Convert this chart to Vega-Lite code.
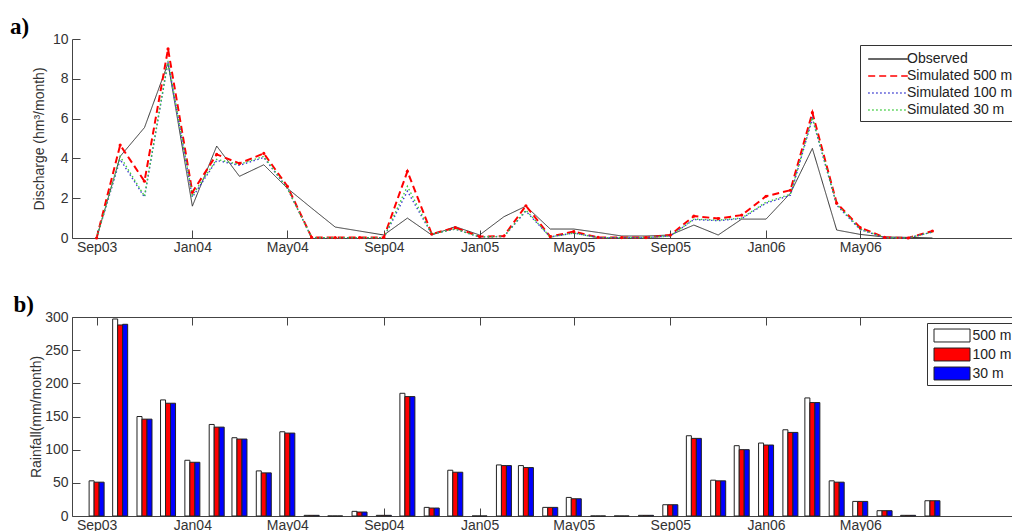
{
  "$schema": "https://vega.github.io/schema/vega-lite/v6.json",
  "autosize": {"type": "none"},
  "width": 940,
  "height": 511,
  "padding": {"left": 72, "top": 20, "right": 0, "bottom": 0},
  "background": "white",
  "config": {
    "view": {"stroke": null},
    "font": "Liberation Sans",
    "axis": {"labelFont": "Liberation Sans", "labelFontSize": 14, "labelColor": "#333", "titleFont": "Liberation Sans", "titleFontSize": 14, "titleFontWeight": "normal", "titleColor": "#333", "domainColor": "#444", "tickColor": "#444", "domainWidth": 1, "tickWidth": 1, "grid": false, "labelFlush": false, "labelOverlap": false, "tickSize": -8},
    "legend": {"labelFont": "Liberation Sans", "labelFontSize": 14, "labelColor": "#222"}
  },
  "title": {"text": "a)", "anchor": "start", "frame": "group", "font": "Liberation Serif", "fontSize": 23, "fontWeight": "bold", "color": "black", "offset": 0, "dx": -62, "dy": 37, "baseline": "alphabetic"},
  "datasets": {
    "q": [
      {"month": "2003-09-01", "obs": 0, "s500": 0, "s100": 0, "s30": 0},
      {"month": "2003-10-01", "obs": 4.1, "s500": 4.67, "s100": 3.95, "s30": 4.1},
      {"month": "2003-11-01", "obs": 5.55, "s500": 2.85, "s100": 2.05, "s30": 2.1},
      {"month": "2003-12-01", "obs": 8.78, "s500": 9.5, "s100": 8.85, "s30": 8.9},
      {"month": "2004-01-01", "obs": 1.6, "s500": 2.3, "s100": 2.05, "s30": 2.15},
      {"month": "2004-02-01", "obs": 4.62, "s500": 4.2, "s100": 3.9, "s30": 3.95},
      {"month": "2004-03-01", "obs": 3.1, "s500": 3.75, "s100": 3.65, "s30": 3.7},
      {"month": "2004-04-01", "obs": 3.68, "s500": 4.25, "s100": 4.05, "s30": 4.1},
      {"month": "2004-05-01", "obs": 2.5, "s500": 2.6, "s100": 2.5, "s30": 2.5},
      {"month": "2004-06-01", "obs": 1.5, "s500": 0.03, "s100": 0.02, "s30": 0.02},
      {"month": "2004-07-01", "obs": 0.55, "s500": 0.02, "s100": 0.02, "s30": 0.02},
      {"month": "2004-08-01", "obs": 0.35, "s500": 0.02, "s100": 0.02, "s30": 0.02},
      {"month": "2004-09-01", "obs": 0.15, "s500": 0.03, "s100": 0.02, "s30": 0.02},
      {"month": "2004-10-01", "obs": 1.0, "s500": 3.35, "s100": 2.35, "s30": 2.6},
      {"month": "2004-11-01", "obs": 0.15, "s500": 0.2, "s100": 0.2, "s30": 0.2},
      {"month": "2004-12-01", "obs": 0.57, "s500": 0.52, "s100": 0.45, "s30": 0.45},
      {"month": "2005-01-01", "obs": 0.15, "s500": 0.07, "s100": 0.05, "s30": 0.05},
      {"month": "2005-02-01", "obs": 1.07, "s500": 0.1, "s100": 0.08, "s30": 0.08},
      {"month": "2005-03-01", "obs": 1.6, "s500": 1.62, "s100": 1.35, "s30": 1.4},
      {"month": "2005-04-01", "obs": 0.45, "s500": 0.07, "s100": 0.05, "s30": 0.05},
      {"month": "2005-05-01", "obs": 0.45, "s500": 0.32, "s100": 0.25, "s30": 0.25},
      {"month": "2005-06-01", "obs": 0.28, "s500": 0.03, "s100": 0.02, "s30": 0.02},
      {"month": "2005-07-01", "obs": 0.1, "s500": 0.02, "s100": 0.02, "s30": 0.02},
      {"month": "2005-08-01", "obs": 0.1, "s500": 0.02, "s100": 0.02, "s30": 0.02},
      {"month": "2005-09-01", "obs": 0.15, "s500": 0.15, "s100": 0.1, "s30": 0.1},
      {"month": "2005-10-01", "obs": 0.65, "s500": 1.1, "s100": 0.93, "s30": 0.95},
      {"month": "2005-11-01", "obs": 0.15, "s500": 0.98, "s100": 0.87, "s30": 0.9},
      {"month": "2005-12-01", "obs": 0.95, "s500": 1.15, "s100": 0.98, "s30": 1.0},
      {"month": "2006-01-01", "obs": 0.95, "s500": 2.1, "s100": 1.75, "s30": 1.8},
      {"month": "2006-02-01", "obs": 2.25, "s500": 2.4, "s100": 2.15, "s30": 2.2},
      {"month": "2006-03-01", "obs": 4.5, "s500": 6.3, "s100": 6.0, "s30": 6.05},
      {"month": "2006-04-01", "obs": 0.4, "s500": 1.75, "s100": 1.65, "s30": 1.7},
      {"month": "2006-05-01", "obs": 0.18, "s500": 0.52, "s100": 0.42, "s30": 0.45},
      {"month": "2006-06-01", "obs": 0.05, "s500": 0.03, "s100": 0.02, "s30": 0.02},
      {"month": "2006-07-01", "obs": 0.03, "s500": 0, "s100": 0, "s30": 0},
      {"month": "2006-08-01", "obs": 0, "s500": 0.35, "s100": 0.3, "s30": 0.3}
    ],
    "rain": [
      {"month": "2003-09-01", "r500": 53, "r100": 51, "r30": 51},
      {"month": "2003-10-01", "r500": 297, "r100": 288, "r30": 289},
      {"month": "2003-11-01", "r500": 150, "r100": 146, "r30": 146},
      {"month": "2003-12-01", "r500": 175, "r100": 170, "r30": 170},
      {"month": "2004-01-01", "r500": 84, "r100": 81, "r30": 81},
      {"month": "2004-02-01", "r500": 138, "r100": 134, "r30": 134},
      {"month": "2004-03-01", "r500": 118, "r100": 116, "r30": 116},
      {"month": "2004-04-01", "r500": 68, "r100": 65, "r30": 65},
      {"month": "2004-05-01", "r500": 127, "r100": 125, "r30": 125},
      {"month": "2004-06-01", "r500": 1, "r100": 1, "r30": 1},
      {"month": "2004-07-01", "r500": 0, "r100": 0, "r30": 0},
      {"month": "2004-08-01", "r500": 7, "r100": 6, "r30": 6},
      {"month": "2004-09-01", "r500": 1, "r100": 1, "r30": 1},
      {"month": "2004-10-01", "r500": 185, "r100": 180, "r30": 180},
      {"month": "2004-11-01", "r500": 13, "r100": 12, "r30": 12},
      {"month": "2004-12-01", "r500": 69, "r100": 66, "r30": 66},
      {"month": "2005-01-01", "r500": 0, "r100": 0, "r30": 0},
      {"month": "2005-02-01", "r500": 77, "r100": 76, "r30": 76},
      {"month": "2005-03-01", "r500": 76, "r100": 73, "r30": 73},
      {"month": "2005-04-01", "r500": 13, "r100": 13, "r30": 13},
      {"month": "2005-05-01", "r500": 28, "r100": 26, "r30": 26},
      {"month": "2005-06-01", "r500": 0, "r100": 0, "r30": 0},
      {"month": "2005-07-01", "r500": 0, "r100": 0, "r30": 0},
      {"month": "2005-08-01", "r500": 1, "r100": 1, "r30": 1},
      {"month": "2005-09-01", "r500": 17, "r100": 17, "r30": 17},
      {"month": "2005-10-01", "r500": 121, "r100": 117, "r30": 117},
      {"month": "2005-11-01", "r500": 54, "r100": 53, "r30": 53},
      {"month": "2005-12-01", "r500": 106, "r100": 100, "r30": 100},
      {"month": "2006-01-01", "r500": 110, "r100": 107, "r30": 107},
      {"month": "2006-02-01", "r500": 130, "r100": 126, "r30": 126},
      {"month": "2006-03-01", "r500": 178, "r100": 171, "r30": 171},
      {"month": "2006-04-01", "r500": 53, "r100": 51, "r30": 51},
      {"month": "2006-05-01", "r500": 22, "r100": 22, "r30": 22},
      {"month": "2006-06-01", "r500": 8, "r100": 8, "r30": 8},
      {"month": "2006-07-01", "r500": 1, "r100": 1, "r30": 1},
      {"month": "2006-08-01", "r500": 23, "r100": 23, "r30": 23}
    ]
  },
  "resolve": {"scale": {"y": "independent"}, "axis": {"x": "independent", "y": "independent"}},
  "layer": [
    {
      "data": {"name": "q"},
      "mark": {"type": "line", "strokeWidth": 1},
      "encoding": {
        "x": {"field": "month", "type": "temporal",
          "scale": {"type": "utc", "domain": [{"year": 2003, "month": 8, "date": 7, "utc": true}, {"year": 2006, "month": 11, "date": 4, "utc": true}]},
          "axis": {"orient": "bottom", "offset": -293, "title": null, "format": "%b%y", "labelPadding": 10,
            "values": [{"year": 2003, "month": 9, "date": 1, "utc": true}, {"year": 2004, "month": 1, "date": 1, "utc": true}, {"year": 2004, "month": 5, "date": 1, "utc": true}, {"year": 2004, "month": 9, "date": 1, "utc": true}, {"year": 2005, "month": 1, "date": 1, "utc": true}, {"year": 2005, "month": 5, "date": 1, "utc": true}, {"year": 2005, "month": 9, "date": 1, "utc": true}, {"year": 2006, "month": 1, "date": 1, "utc": true}, {"year": 2006, "month": 5, "date": 1, "utc": true}]}},
        "y": {"field": "obs", "type": "quantitative", "scale": {"domain": [0, 10], "range": [218, 19]},
          "axis": {"orient": "left", "values": [0, 2, 4, 6, 8, 10], "title": "Discharge (hm³/month)", "labelPadding": 12, "titlePadding": 6}},
        "stroke": {"datum": "Observed",
          "scale": {"domain": ["Observed", "Simulated 500 m", "Simulated 100 m", "Simulated 30 m"], "range": ["#333333", "#ff0000", "#3c3cd0", "#3ccc3c"]},
          "legend": {"orient": "none", "legendX": 788, "legendY": 25, "title": null, "padding": 4, "strokeColor": "#333", "fillColor": "white", "symbolType": "M-2.2,0H2.2", "symbolSize": 324, "symbolOffset": 14, "labelOffset": 9, "rowPadding": 0, "symbolStrokeWidth": 1.5, "labelFontSize": 14, "labelColor": "#222"}},
        "strokeDash": {"datum": "Observed",
          "scale": {"domain": ["Observed", "Simulated 500 m", "Simulated 100 m", "Simulated 30 m"], "range": [[1, 0], [7, 4], [1.5, 2.5], [1.5, 2.5]]},
          "legend": {"orient": "none", "legendX": 788, "legendY": 25, "title": null, "padding": 4, "strokeColor": "#333", "fillColor": "white", "symbolType": "M-2.2,0H2.2", "symbolSize": 324, "symbolOffset": 14, "labelOffset": 9, "rowPadding": 0, "symbolStrokeWidth": 1.5, "labelFontSize": 14, "labelColor": "#222"}}
      }
    },
    {
      "data": {"name": "q"},
      "mark": {"type": "line", "strokeWidth": 2},
      "encoding": {
        "x": {"field": "month", "type": "temporal", "axis": null},
        "y": {"field": "s500", "type": "quantitative", "scale": {"domain": [0, 10], "range": [218, 19]}, "axis": null},
        "stroke": {"datum": "Simulated 500 m"},
        "strokeDash": {"datum": "Simulated 500 m"}
      }
    },
    {
      "data": {"name": "q"},
      "mark": {"type": "line", "strokeWidth": 1.4},
      "encoding": {
        "x": {"field": "month", "type": "temporal", "axis": null},
        "y": {"field": "s100", "type": "quantitative", "scale": {"domain": [0, 10], "range": [218, 19]}, "axis": null},
        "stroke": {"datum": "Simulated 100 m"},
        "strokeDash": {"datum": "Simulated 100 m"}
      }
    },
    {
      "data": {"name": "q"},
      "mark": {"type": "line", "strokeWidth": 1.4},
      "encoding": {
        "x": {"field": "month", "type": "temporal", "axis": null},
        "y": {"field": "s30", "type": "quantitative", "scale": {"domain": [0, 10], "range": [218, 19]}, "axis": null},
        "stroke": {"datum": "Simulated 30 m"},
        "strokeDash": {"datum": "Simulated 30 m"}
      }
    },
    {
      "data": {"name": "q"},
      "mark": {"type": "point", "filled": true, "size": 10, "opacity": 1, "color": "#ff0000"},
      "encoding": {
        "x": {"field": "month", "type": "temporal", "axis": null},
        "y": {"field": "s500", "type": "quantitative", "scale": {"domain": [0, 10], "range": [218, 19]}, "axis": null}
      }
    },
    {
      "data": {"name": "rain"},
      "mark": {"type": "bar", "width": 5, "xOffset": -5, "stroke": "#222", "strokeWidth": 1},
      "encoding": {
        "x": {"field": "month", "type": "temporal",
          "axis": {"orient": "bottom", "offset": -15, "title": null, "format": "%b%y", "labelPadding": 10,
            "values": [{"year": 2003, "month": 9, "date": 1, "utc": true}, {"year": 2004, "month": 1, "date": 1, "utc": true}, {"year": 2004, "month": 5, "date": 1, "utc": true}, {"year": 2004, "month": 9, "date": 1, "utc": true}, {"year": 2005, "month": 1, "date": 1, "utc": true}, {"year": 2005, "month": 5, "date": 1, "utc": true}, {"year": 2005, "month": 9, "date": 1, "utc": true}, {"year": 2006, "month": 1, "date": 1, "utc": true}, {"year": 2006, "month": 5, "date": 1, "utc": true}]}},
        "y": {"field": "r500", "type": "quantitative", "scale": {"domain": [0, 300], "range": [496, 297]},
          "axis": {"orient": "left", "values": [0, 50, 100, 150, 200, 250, 300], "title": "Rainfall(mm/month)", "labelPadding": 12, "titlePadding": 1}},
        "fill": {"datum": "500 m",
          "scale": {"domain": ["500 m", "100 m", "30 m"], "range": ["#ffffff", "#ff0000", "#0000ff"]},
          "legend": {"orient": "none", "legendX": 855, "legendY": 303, "title": null, "padding": 3, "strokeColor": "#333", "fillColor": "white", "symbolType": "M-2,-0.72H2V0.72H-2Z", "symbolSize": 324, "symbolOffset": 12.5, "labelOffset": 11, "rowPadding": 1, "symbolStrokeColor": "#222", "symbolStrokeWidth": 1, "labelFontSize": 14, "labelColor": "#222"}}
      }
    },
    {
      "data": {"name": "rain"},
      "mark": {"type": "bar", "width": 5, "xOffset": 0, "stroke": "#222", "strokeWidth": 1},
      "encoding": {
        "x": {"field": "month", "type": "temporal",
          "axis": {"orient": "top", "offset": -297, "labels": false, "title": "b)", "titleX": -59, "titleY": -6, "titleAngle": 0, "titleAlign": "left", "titleBaseline": "alphabetic", "titleFont": "Liberation Serif", "titleFontSize": 23, "titleFontWeight": "bold", "titleColor": "black",
            "values": [{"year": 2003, "month": 9, "date": 1, "utc": true}, {"year": 2004, "month": 1, "date": 1, "utc": true}, {"year": 2004, "month": 5, "date": 1, "utc": true}, {"year": 2004, "month": 9, "date": 1, "utc": true}, {"year": 2005, "month": 1, "date": 1, "utc": true}, {"year": 2005, "month": 5, "date": 1, "utc": true}, {"year": 2005, "month": 9, "date": 1, "utc": true}, {"year": 2006, "month": 1, "date": 1, "utc": true}, {"year": 2006, "month": 5, "date": 1, "utc": true}]}},
        "y": {"field": "r100", "type": "quantitative", "scale": {"domain": [0, 300], "range": [496, 297]}, "axis": null},
        "fill": {"datum": "100 m"}
      }
    },
    {
      "data": {"name": "rain"},
      "mark": {"type": "bar", "width": 5, "xOffset": 5, "stroke": "#222", "strokeWidth": 1},
      "encoding": {
        "x": {"field": "month", "type": "temporal", "axis": null},
        "y": {"field": "r30", "type": "quantitative", "scale": {"domain": [0, 300], "range": [496, 297]}, "axis": null},
        "fill": {"datum": "30 m"}
      }
    }
  ]
}
